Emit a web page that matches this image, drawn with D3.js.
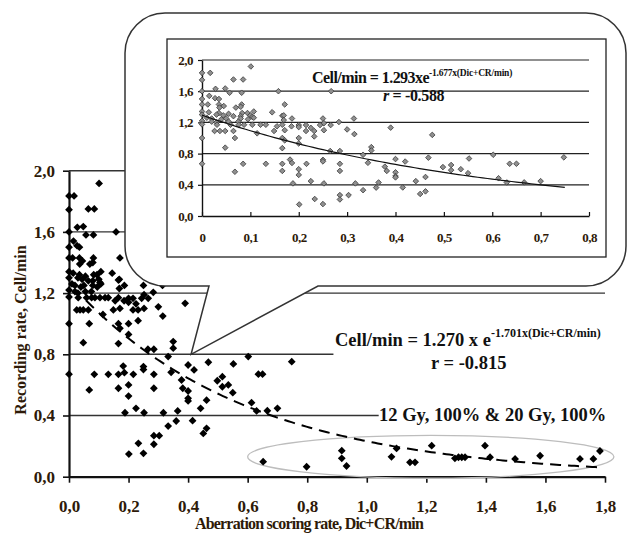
<!DOCTYPE html>
<html>
<head>
<meta charset="utf-8">
<script src="https://cdn.jsdelivr.net/npm/d3@7"></script>
<style>
  body { margin: 0; background: #fff; }
  text { font-family: "Liberation Serif", "Times New Roman", serif; font-weight: bold; }
</style>
</head>
<body>
<div id="chart"></div>
<script>
// Scatter data: [aberration scoring rate, recording rate]
const lowDosePoints = [
  [0,1.835],[0.017,1.835],[0,1.745],[0.101,1.917],[0.065,1.75],[0.085,1.75],
  [0.028,1.63],[0.048,1.635],[0,1.6],[0.158,1.6],[0.267,1.6],[0.057,1.58],[0.082,1.58],
  [0.015,1.54],[0,1.5],[0.027,1.51],[0.035,1.5],
  [0.171,1.43],[0,1.43],[0.012,1.43],[0.035,1.43],[0.045,1.41],[0.082,1.43],
  [0.036,1.39],[0.07,1.39],[0.08,1.4],
  [0,1.34],[0.014,1.33],[0.035,1.32],[0.055,1.31],[0.083,1.32],[0.094,1.32],[0.107,1.34],[0.145,1.33],
  [0,1.3],[0.03,1.3],[0.044,1.29],[0.065,1.28],[0.08,1.28],[0.1,1.29],[0.104,1.27],[0.166,1.285],[0.169,1.29],
  [0.01,1.26],[0.02,1.25],[0.04,1.24],[0.05,1.25],[0.08,1.25],[0.095,1.24],[0.107,1.26],[0.186,1.25],[0.25,1.25],[0.314,1.25],
  [0,1.22],[0.02,1.21],[0.03,1.2],[0.055,1.21],[0.075,1.21],[0.169,1.23],[0.252,1.19],[0.283,1.205],
  [0,1.175],[0.031,1.17],[0.059,1.17],[0.076,1.17],[0.087,1.17],[0.104,1.17],[0.121,1.17],[0.132,1.17],
  [0.166,1.17],[0.2,1.166],[0.215,1.166],[0.244,1.166],[0.266,1.166],
  [0.155,1.15],[0.185,1.15],[0.2,1.14],[0.225,1.13],[0.39,1.133],
  [0.026,1.09],[0.037,1.09],[0.048,1.09],[0.065,1.09],[0.149,1.09],[0.171,1.1],[0.215,1.09],[0.232,1.09],
  [0.252,1.1],[0.3,1.11],[0.114,1.06],[0.315,1.05],[0.476,1.04],
  [0,1.0],[0.068,1.0],[0.166,1.0],[0.171,0.97],[0.2,1.0],[0.232,1.02],[0.2,0.93],
  [0.048,0.876],[0.166,0.87],[0.35,0.883],[0.35,0.84],[0.265,0.833],[0.285,0.833],[0.333,0.785],
  [0.182,0.723],[0.25,0.72],[0.25,0.7],[0.4,0.73],[0.42,0.698],[0.468,0.748],[0.552,0.737],[0.602,0.785],[0.748,0.752],
  [0,0.67],[0.085,0.669],[0.132,0.669],[0.166,0.669],[0.186,0.68],[0.216,0.669],[0.285,0.669],[0.343,0.682],[0.636,0.67],[0.65,0.67],
  [0.378,0.632],[0.498,0.627],[0.515,0.654],[0.535,0.6],[0.515,0.588],[0.2,0.6],
  [0.068,0.567],[0.166,0.578],[0.285,0.578],[0.382,0.578],[0.4,0.56],[0.55,0.549],[0.2,0.527],[0.4,0.512],
  [0.4,0.495],[0.462,0.5],[0.613,0.484],
  [0.225,0.447],[0.442,0.447],[0.7,0.447],[0.188,0.418],[0.252,0.418],[0.317,0.418],[0.365,0.43],[0.63,0.43],[0.666,0.431],
  [0.36,0.364],[0.415,0.366],[0.333,0.331],[0.462,0.316],[0.451,0.283],[0.285,0.268],[0.303,0.268],
  [0.233,0.218],[0.285,0.212],[0.25,0.153],[0.201,0.148]
];

// 12 Gy, 100% & 20 Gy, 100% (circled group)
const highDosePoints = [
  [0.652,0.098],[0.798,0.065],[0.916,0.17],[0.916,0.12],[0.932,0.07],[1.083,0.13],[1.1,0.185],
  [1.145,0.094],[1.162,0.094],[1.218,0.203],[1.296,0.12],[1.308,0.127],[1.319,0.127],[1.33,0.127],
  [1.397,0.203],[1.414,0.127],[1.498,0.116],[1.582,0.137],[1.716,0.116],[1.761,0.116],[1.783,0.168]
];

// Fitted curves: y = a * exp(-b * x)
const fitMain = { a: 1.270, b: 1.701, from: 0.057, to: 1.78 };
const fitInset = { a: 1.293, b: 1.677, from: 0, to: 0.75 };

const xTicksMain = [0, 0.2, 0.4, 0.6, 0.8, 1.0, 1.2, 1.4, 1.6, 1.8];
const yTicksMain = [0, 0.4, 0.8, 1.2, 1.6, 2.0];
const xTicksInset = [0, 0.1, 0.2, 0.3, 0.4, 0.5, 0.6, 0.7, 0.8];
const yTicksInset = [0, 0.4, 0.8, 1.2, 1.6, 2.0];

const labelColor = "#2e1a08";
const comma = d => d3.format(".1f")(d).replace(".", ",");

const svg = d3.select("#chart")
  .append("svg")
  .attr("width", 628)
  .attr("height", 533);

// Main scales
const x = d3.scaleLinear().domain([0, 1.8]).range([69, 605]);
const y = d3.scaleLinear().domain([0, 2]).range([476.7, 170.7]);

// Main horizontal gridlines (some stop short of the annotations)
const gridEnd = { 0.4: 1.04, 0.8: 0.888, 1.2: 1.8, 1.6: 1.8, 2: 1.8 };
svg.append("g")
  .selectAll("line")
  .data(yTicksMain.filter(d => d > 0))
  .enter()
  .append("line")
  .attr("x1", x(0))
  .attr("x2", d => x(gridEnd[d]))
  .attr("y1", d => y(d))
  .attr("y2", d => y(d))
  .attr("stroke", "#333")
  .attr("stroke-width", 1.4);

// Main axes
const xAxis = svg.append("g")
  .attr("transform", `translate(0,${y(0)})`)
  .call(d3.axisBottom(x).tickValues(xTicksMain).tickFormat(comma)
    .tickSize(6).tickSizeOuter(0).tickPadding(17));

const yAxis = svg.append("g")
  .attr("transform", `translate(${x(0)},0)`)
  .call(d3.axisLeft(y).tickValues(yTicksMain).tickFormat(comma)
    .tickSize(6).tickSizeOuter(0).tickPadding(8));

[xAxis, yAxis].forEach(g => {
  g.select(".domain").attr("stroke", "#111").attr("stroke-width", 2.2);
  g.selectAll(".tick line").attr("stroke", "#111").attr("stroke-width", 1.6);
  g.selectAll("text")
    .attr("fill", labelColor)
    .style("font-size", "17px")
    .style("font-family", "'Liberation Serif', serif")
    .style("font-weight", "bold");
});

// Ellipse around the high dose group
svg.append("ellipse")
  .attr("cx", x(1.215))
  .attr("cy", y(0.13))
  .attr("rx", x(0.615) - x(0))
  .attr("ry", y(0) - y(0.14))
  .attr("fill", "none")
  .attr("stroke", "#bdbdbd")
  .attr("stroke-width", 1.3);

const diamond = r => `M0,${-r}L${r},0L0,${r}L${-r},0Z`;

svg.append("g")
  .selectAll("path")
  .data(lowDosePoints.concat(highDosePoints))
  .enter()
  .append("path")
  .attr("d", diamond(3.9))
  .attr("transform", d => `translate(${x(d[0])},${y(d[1])})`)
  .attr("fill", "#000");

// Dashed fit curve
const mainCurve = d3.range(fitMain.from, fitMain.to + 0.001, 0.01)
  .map(v => [v, fitMain.a * Math.exp(-fitMain.b * v)]);
svg.append("path")
  .datum(mainCurve)
  .attr("fill", "none")
  .attr("stroke", "#000")
  .attr("stroke-width", 2)
  .attr("stroke-dasharray", "11,7")
  .attr("d", d3.line().x(d => x(d[0])).y(d => y(d[1])));

// Callout box with pointer
const tipX = x(0.41), tipY = y(0.8);
const L = 125, R = 626, T = 13, B = 286, r = 40;
const callout = `M${L + r},${T}H${R - r}A${r},${r} 0 0 1 ${R},${T + r}V${B - r}` +
  `A${r},${r} 0 0 1 ${R - r},${B}H318L${tipX},${tipY}L209,${B}H${L + r}` +
  `A${r},${r} 0 0 1 ${L},${B - r}V${T + r}A${r},${r} 0 0 1 ${L + r},${T}Z`;
svg.append("path")
  .attr("d", callout)
  .attr("fill", "#fff")
  .attr("stroke", "#333")
  .attr("stroke-width", 1.5);

// Inset
svg.append("rect")
  .attr("x", 167).attr("y", 39)
  .attr("width", 439).attr("height", 218)
  .attr("fill", "#fff")
  .attr("stroke", "#222")
  .attr("stroke-width", 1.3);

const xi = d3.scaleLinear().domain([0, 0.8]).range([202, 589]);
const yi = d3.scaleLinear().domain([0, 2]).range([216, 60]);

svg.append("g")
  .selectAll("line")
  .data(yTicksInset.filter(d => d > 0))
  .enter()
  .append("line")
  .attr("x1", xi(0))
  .attr("x2", xi(0.8))
  .attr("y1", d => yi(d))
  .attr("y2", d => yi(d))
  .attr("stroke", "#222")
  .attr("stroke-width", 1.2);

const xiAxis = svg.append("g")
  .attr("transform", `translate(0,${yi(0)})`)
  .call(d3.axisBottom(xi).tickValues(xTicksInset)
    .tickFormat(d => d === 0 ? "0" : comma(d))
    .tickSizeInner(-4).tickSizeOuter(0).tickPadding(17));

const yiAxis = svg.append("g")
  .attr("transform", `translate(${xi(0)},0)`)
  .call(d3.axisLeft(yi).tickValues(yTicksInset).tickFormat(comma)
    .tickSize(4).tickSizeOuter(0).tickPadding(5));

[xiAxis, yiAxis].forEach(g => {
  g.select(".domain").attr("stroke", "#111").attr("stroke-width", 1.4);
  g.selectAll(".tick line").attr("stroke", "#111").attr("stroke-width", 1.2);
  g.selectAll("text")
    .attr("fill", labelColor)
    .style("font-size", "13px")
    .style("letter-spacing", "-0.5px")
    .style("font-family", "'Liberation Serif', serif")
    .style("font-weight", "bold");
});

svg.append("g")
  .selectAll("path")
  .data(lowDosePoints.filter(d => d[0] <= 0.8))
  .enter()
  .append("path")
  .attr("d", diamond(2.8))
  .attr("transform", d => `translate(${xi(d[0])},${yi(d[1])})`)
  .attr("fill", "#8f8f8f")
  .attr("stroke", "#3a3a3a")
  .attr("stroke-width", 0.8);

const insetCurve = d3.range(fitInset.from, fitInset.to + 0.001, 0.01)
  .map(v => [v, fitInset.a * Math.exp(-fitInset.b * v)]);
svg.append("path")
  .datum(insetCurve)
  .attr("fill", "none")
  .attr("stroke", "#111")
  .attr("stroke-width", 1.2)
  .attr("d", d3.line().x(d => xi(d[0])).y(d => yi(d[1])));

// Inset equation
const eqIn = svg.append("text")
  .attr("x", 312).attr("y", 83)
  .style("font-size", "16px")
  .style("letter-spacing", "-0.55px")
  .attr("fill", "#111");
eqIn.append("tspan").text("Cell/min = 1.293xe");
eqIn.append("tspan").attr("dy", -7).style("font-size", "9.5px").style("letter-spacing", "-0.2px")
  .text("-1.677x(Dic+CR/min)");

const rIn = svg.append("text")
  .attr("x", 383).attr("y", 101)
  .style("font-size", "16px")
  .style("letter-spacing", "-0.35px")
  .attr("fill", "#111");
rIn.append("tspan").style("font-style", "italic").text("r");
rIn.append("tspan").text(" = -0.588");

// Main annotations
const eqMain = svg.append("text")
  .attr("x", 335).attr("y", 346)
  .style("font-size", "18.5px")
  .attr("fill", "#111");
eqMain.append("tspan").text("Cell/min = 1.270 x e");
eqMain.append("tspan").attr("dy", -9.5).style("font-size", "12px").text("-1.701x(Dic+CR/min)");

svg.append("text")
  .attr("x", 431).attr("y", 369)
  .style("font-size", "18.5px")
  .attr("fill", "#111")
  .text("r = -0.815");

svg.append("text")
  .attr("x", 379).attr("y", 421)
  .style("font-size", "18.5px")
  .attr("fill", "#111")
  .text("12 Gy, 100% & 20 Gy, 100%");

// Axis titles
svg.append("text")
  .attr("x", 309).attr("y", 529)
  .attr("text-anchor", "middle")
  .style("font-size", "16px")
  .style("letter-spacing", "-0.8px")
  .attr("fill", labelColor)
  .text("Aberration scoring rate, Dic+CR/min");

svg.append("text")
  .attr("transform", "rotate(-90)")
  .attr("x", -330).attr("y", 26)
  .attr("text-anchor", "middle")
  .style("font-size", "16px")
  .attr("fill", labelColor)
  .text("Recording rate, Cell/min");
</script>
</body>
</html>
